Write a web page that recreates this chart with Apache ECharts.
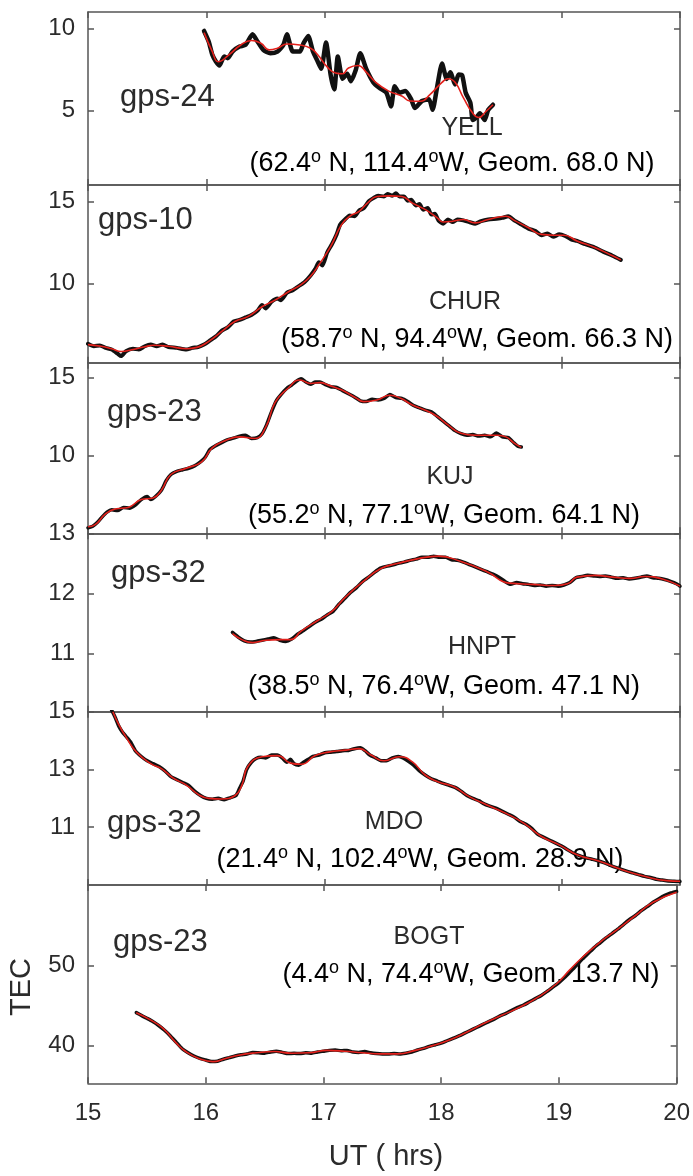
<!DOCTYPE html>
<html>
<head>
<meta charset="utf-8">
<script src="https://cdn.jsdelivr.net/npm/echarts@6/dist/echarts.min.js"></script>
<style>
  html, body { margin: 0; padding: 0; background: #fff; }
  #chart { width: 693px; height: 1176px; }
</style>
</head>
<body>
<div id="chart"></div>
<script>
// TEC (total electron content) along six GPS station links, UT 15-20 h.
// Each station: raw slant TEC (black) and its smoothed trend (red), as [UT hours, TEC].

const stationNames = ['YELL', 'CHUR', 'KUJ', 'HNPT', 'MDO', 'BOGT'];
const satelliteNames = ['gps-24', 'gps-10', 'gps-23', 'gps-32', 'gps-32', 'gps-23'];
const stationCoords = [
  ['62.4', ' N, 114.4', 'W, Geom. 68.0 N)'],
  ['58.7', ' N, 94.4', 'W, Geom. 66.3 N)'],
  ['55.2', ' N, 77.1', 'W, Geom. 64.1 N)'],
  ['38.5', ' N, 76.4', 'W, Geom. 47.1 N)'],
  ['21.4', ' N, 102.4', 'W, Geom. 28.9 N)'],
  ['4.4', ' N, 74.4', 'W, Geom. 13.7 N)']
];

const xTickLabels = [15, 16, 17, 18, 19, 20];
const yRanges = [[0.5, 11], [5.2, 16.0], [5.05, 15.93], [10.03, 13], [9.0, 15], [35.3, 60]];
const yTickValues = [[5, 10], [10, 15], [10, 15], [11, 12, 13], [11, 13, 15], [40, 50]];

const rawYELL = [[15.98,9.85],[16.02,9.2],[16.05,8.4],[16.08,8.0],[16.11,7.75],[16.15,8.3],[16.18,8.2],[16.22,8.6],[16.28,8.9],[16.33,9.0],[16.39,9.65],[16.43,9.23],[16.48,8.7],[16.54,8.5],[16.6,8.6],[16.65,9.0],[16.68,9.65],[16.73,8.6],[16.79,8.6],[16.82,9.1],[16.86,9.55],[16.9,8.6],[16.94,8.0],[16.97,7.55],[17.01,9.15],[17.05,7.15],[17.08,6.3],[17.11,8.3],[17.15,6.95],[17.19,7.25],[17.22,6.8],[17.26,7.45],[17.3,8.5],[17.35,7.55],[17.41,6.73],[17.46,6.4],[17.52,6.1],[17.56,5.27],[17.59,6.5],[17.63,6.1],[17.68,6.2],[17.73,5.7],[17.76,5.17],[17.82,5.6],[17.88,5.7],[17.91,5.06],[17.95,6.5],[17.99,7.87],[18.03,6.94],[18.06,7.35],[18.1,6.6],[18.13,7.2],[18.16,7.15],[18.19,6.1],[18.23,5.48],[18.25,4.44],[18.28,4.6],[18.31,4.85],[18.35,4.44],[18.38,5.06],[18.42,5.37]];
const fitYELL = [[15.98,9.75],[16.05,8.6],[16.1,7.98],[16.19,8.4],[16.29,9.0],[16.38,9.27],[16.46,9.1],[16.53,8.7],[16.6,8.8],[16.68,9.06],[16.79,9.0],[16.88,8.8],[16.94,8.4],[17.02,7.67],[17.09,7.3],[17.15,7.25],[17.2,7.6],[17.28,7.75],[17.35,7.35],[17.43,6.73],[17.54,6.2],[17.65,5.9],[17.72,5.6],[17.81,5.58],[17.89,6.0],[17.99,6.73],[18.04,6.95],[18.1,6.73],[18.17,5.8],[18.25,4.85],[18.3,4.6],[18.36,4.96],[18.42,5.37]];

const rawCHUR = [[15.0,6.35],[15.05,6.2],[15.1,6.25],[15.15,6.1],[15.2,6.0],[15.25,5.75],[15.28,5.6],[15.32,5.9],[15.38,6.05],[15.43,6.0],[15.48,6.2],[15.53,6.3],[15.58,6.2],[15.63,6.3],[15.68,6.15],[15.75,6.1],[15.83,6.0],[15.88,6.1],[15.93,6.15],[15.98,6.3],[16.03,6.55],[16.08,6.8],[16.13,7.15],[16.18,7.35],[16.23,7.7],[16.28,7.8],[16.33,7.95],[16.38,8.1],[16.43,8.35],[16.47,8.7],[16.5,8.5],[16.55,8.9],[16.6,9.1],[16.63,9.0],[16.68,9.45],[16.73,9.6],[16.78,9.85],[16.83,10.1],[16.88,10.5],[16.92,10.9],[16.95,11.3],[16.98,11.1],[17.02,11.9],[17.06,12.4],[17.1,13.0],[17.13,13.6],[17.17,13.9],[17.21,14.15],[17.25,14.1],[17.29,14.45],[17.33,14.6],[17.37,15.0],[17.41,15.2],[17.45,15.35],[17.5,15.3],[17.53,15.45],[17.57,15.35],[17.6,15.5],[17.63,15.3],[17.67,15.3],[17.7,15.05],[17.73,15.1],[17.77,14.75],[17.8,14.85],[17.83,14.5],[17.87,14.6],[17.9,14.2],[17.93,14.25],[17.96,13.85],[18.0,13.65],[18.04,13.9],[18.08,13.75],[18.12,13.9],[18.17,13.85],[18.22,13.75],[18.27,13.65],[18.32,13.8],[18.38,13.9],[18.45,13.95],[18.5,14.0],[18.55,14.1],[18.6,13.85],[18.66,13.6],[18.72,13.35],[18.78,13.2],[18.83,12.95],[18.88,13.05],[18.93,12.85],[18.98,13.0],[19.03,12.9],[19.08,12.7],[19.13,12.6],[19.2,12.4],[19.28,12.2],[19.35,11.95],[19.43,11.7],[19.5,11.45]];
const fitCHUR = [[15.0,6.3],[15.11,6.2],[15.2,6.05],[15.28,5.88],[15.38,6.0],[15.47,6.15],[15.56,6.26],[15.68,6.2],[15.83,6.05],[15.92,6.13],[16.02,6.5],[16.13,7.1],[16.24,7.7],[16.35,8.0],[16.47,8.6],[16.58,9.0],[16.69,9.5],[16.8,9.94],[16.88,10.45],[16.95,11.15],[17.05,12.27],[17.14,13.58],[17.21,14.1],[17.29,14.4],[17.36,14.9],[17.44,15.3],[17.55,15.34],[17.65,15.3],[17.74,14.9],[17.85,14.5],[17.95,14.0],[18.0,13.75],[18.08,13.8],[18.17,13.9],[18.27,13.7],[18.38,13.9],[18.53,14.1],[18.6,13.85],[18.72,13.4],[18.83,13.0],[18.93,12.95],[19.02,12.95],[19.13,12.6],[19.28,12.2],[19.43,11.7],[19.5,11.45]];

const rawKUJ = [[15.0,5.4],[15.04,5.5],[15.08,5.75],[15.12,6.1],[15.16,6.4],[15.2,6.55],[15.25,6.5],[15.3,6.7],[15.35,6.65],[15.4,6.85],[15.45,7.2],[15.5,7.4],[15.53,7.2],[15.57,7.4],[15.62,7.8],[15.66,8.4],[15.7,8.8],[15.75,9.0],[15.8,9.1],[15.85,9.2],[15.9,9.35],[15.95,9.6],[15.99,9.9],[16.03,10.4],[16.07,10.6],[16.12,10.8],[16.17,11.0],[16.22,11.1],[16.28,11.25],[16.33,11.3],[16.38,11.1],[16.43,11.15],[16.47,11.4],[16.51,12.0],[16.55,12.8],[16.59,13.5],[16.63,13.9],[16.68,14.3],[16.72,14.5],[16.76,14.75],[16.8,14.9],[16.84,14.7],[16.88,14.55],[16.92,14.7],[16.96,14.7],[17.0,14.55],[17.05,14.4],[17.1,14.35],[17.15,14.15],[17.2,13.95],[17.25,13.75],[17.3,13.5],[17.35,13.45],[17.4,13.6],[17.45,13.55],[17.5,13.65],[17.55,13.9],[17.6,13.7],[17.65,13.65],[17.7,13.45],[17.75,13.2],[17.8,13.05],[17.85,12.9],[17.9,12.8],[17.95,12.5],[18.0,12.2],[18.05,11.9],[18.1,11.6],[18.15,11.4],[18.2,11.3],[18.25,11.35],[18.3,11.25],[18.35,11.3],[18.4,11.2],[18.45,11.45],[18.5,11.2],[18.55,11.15],[18.6,10.8],[18.63,10.6],[18.66,10.55]];
const fitKUJ = [[15.0,5.47],[15.06,5.6],[15.15,6.3],[15.23,6.6],[15.34,6.7],[15.45,7.2],[15.55,7.3],[15.62,7.8],[15.7,8.8],[15.83,9.2],[15.96,9.6],[16.05,10.5],[16.17,11.0],[16.28,11.2],[16.41,11.1],[16.5,11.8],[16.58,13.4],[16.69,14.3],[16.79,14.83],[16.88,14.6],[16.96,14.66],[17.03,14.5],[17.14,14.2],[17.26,13.7],[17.33,13.45],[17.44,13.55],[17.55,13.85],[17.64,13.66],[17.74,13.23],[17.85,12.9],[17.95,12.5],[18.04,11.96],[18.15,11.43],[18.27,11.3],[18.38,11.3],[18.46,11.3],[18.53,11.2],[18.6,10.8],[18.66,10.53]];

const rawHNPT = [[16.22,11.35],[16.27,11.27],[16.32,11.21],[16.37,11.19],[16.42,11.2],[16.47,11.22],[16.52,11.24],[16.57,11.26],[16.62,11.22],[16.67,11.2],[16.72,11.24],[16.77,11.32],[16.82,11.38],[16.87,11.45],[16.92,11.52],[16.97,11.57],[17.02,11.64],[17.07,11.7],[17.12,11.82],[17.17,11.92],[17.22,12.02],[17.27,12.1],[17.32,12.2],[17.37,12.27],[17.42,12.35],[17.47,12.42],[17.52,12.45],[17.57,12.47],[17.62,12.5],[17.67,12.52],[17.72,12.55],[17.77,12.57],[17.82,12.6],[17.87,12.6],[17.92,12.62],[17.97,12.6],[18.02,12.6],[18.07,12.56],[18.12,12.55],[18.17,12.52],[18.22,12.48],[18.27,12.44],[18.32,12.4],[18.37,12.36],[18.42,12.32],[18.47,12.27],[18.52,12.2],[18.57,12.15],[18.62,12.18],[18.67,12.16],[18.72,12.15],[18.77,12.13],[18.82,12.14],[18.87,12.12],[18.92,12.13],[18.97,12.12],[19.02,12.14],[19.07,12.18],[19.12,12.26],[19.17,12.28],[19.22,12.3],[19.27,12.29],[19.32,12.28],[19.37,12.29],[19.42,12.27],[19.47,12.25],[19.52,12.26],[19.57,12.24],[19.62,12.25],[19.67,12.27],[19.72,12.29],[19.77,12.26],[19.82,12.25],[19.87,12.23],[19.92,12.2],[19.97,12.16],[20.0,12.12]];
const fitHNPT = [[16.22,11.33],[16.3,11.23],[16.39,11.18],[16.5,11.22],[16.62,11.23],[16.71,11.23],[16.8,11.37],[16.95,11.56],[17.06,11.7],[17.17,11.93],[17.32,12.19],[17.47,12.41],[17.62,12.5],[17.77,12.57],[17.96,12.62],[18.15,12.53],[18.37,12.36],[18.56,12.17],[18.75,12.15],[18.94,12.13],[19.05,12.16],[19.13,12.27],[19.28,12.3],[19.43,12.27],[19.58,12.25],[19.7,12.28],[19.85,12.24],[20.0,12.12]];

const rawMDO = [[15.2,15.05],[15.23,14.8],[15.26,14.5],[15.29,14.3],[15.32,14.15],[15.36,13.95],[15.4,13.65],[15.45,13.45],[15.5,13.3],[15.55,13.2],[15.6,13.1],[15.65,12.95],[15.7,12.75],[15.75,12.65],[15.8,12.55],[15.85,12.45],[15.9,12.25],[15.95,12.1],[16.0,12.0],[16.05,11.97],[16.1,12.0],[16.15,11.95],[16.2,12.02],[16.25,12.1],[16.28,12.35],[16.31,12.6],[16.34,13.0],[16.38,13.25],[16.42,13.38],[16.46,13.42],[16.5,13.4],[16.55,13.5],[16.6,13.5],[16.64,13.4],[16.68,13.25],[16.71,13.35],[16.74,13.2],[16.78,13.15],[16.82,13.25],[16.86,13.35],[16.9,13.45],[16.95,13.5],[17.0,13.58],[17.05,13.6],[17.1,13.62],[17.15,13.65],[17.2,13.66],[17.25,13.72],[17.3,13.75],[17.34,13.65],[17.38,13.5],[17.43,13.4],[17.48,13.3],[17.52,13.3],[17.57,13.4],[17.62,13.45],[17.66,13.4],[17.7,13.3],[17.75,13.15],[17.8,12.95],[17.85,12.8],[17.9,12.68],[17.95,12.6],[18.0,12.52],[18.05,12.45],[18.1,12.38],[18.15,12.25],[18.2,12.1],[18.25,12.0],[18.3,11.92],[18.35,11.8],[18.4,11.72],[18.45,11.65],[18.5,11.55],[18.55,11.45],[18.6,11.35],[18.65,11.2],[18.7,11.1],[18.75,10.95],[18.8,10.75],[18.85,10.65],[18.9,10.55],[18.95,10.45],[19.0,10.35],[19.05,10.22],[19.1,10.1],[19.15,10.02],[19.2,9.95],[19.25,9.9],[19.3,9.85],[19.35,9.78],[19.4,9.7],[19.45,9.62],[19.5,9.55],[19.55,9.48],[19.6,9.42],[19.65,9.36],[19.7,9.3],[19.75,9.26],[19.8,9.2],[19.85,9.17],[19.9,9.14],[19.95,9.13],[20.0,9.12]];
const fitMDO = [[15.21,15.0],[15.26,14.55],[15.32,14.13],[15.41,13.6],[15.53,13.2],[15.62,13.03],[15.72,12.7],[15.83,12.46],[15.94,12.11],[16.02,12.0],[16.13,11.98],[16.24,12.09],[16.3,12.46],[16.35,13.1],[16.47,13.44],[16.6,13.48],[16.71,13.22],[16.8,13.18],[16.92,13.48],[17.03,13.6],[17.18,13.67],[17.29,13.72],[17.39,13.5],[17.5,13.3],[17.63,13.44],[17.74,13.26],[17.85,12.8],[17.96,12.57],[18.09,12.4],[18.22,12.06],[18.37,11.77],[18.53,11.48],[18.68,11.14],[18.83,10.68],[18.98,10.39],[19.13,10.05],[19.32,9.82],[19.51,9.53],[19.7,9.3],[19.89,9.15],[20.0,9.13]];

const rawBOGT = [[15.41,44.1],[15.46,43.7],[15.5,43.4],[15.55,43.0],[15.6,42.5],[15.65,41.9],[15.7,41.2],[15.75,40.4],[15.8,39.6],[15.85,39.1],[15.9,38.7],[15.95,38.4],[16.0,38.2],[16.05,38.0],[16.1,38.05],[16.15,38.3],[16.2,38.5],[16.25,38.7],[16.3,38.85],[16.35,38.95],[16.4,39.15],[16.45,39.1],[16.5,39.05],[16.55,39.2],[16.6,39.3],[16.65,39.15],[16.7,39.0],[16.75,39.05],[16.8,39.0],[16.85,39.1],[16.9,39.05],[16.95,39.2],[17.0,39.3],[17.05,39.4],[17.1,39.45],[17.15,39.35],[17.2,39.4],[17.25,39.2],[17.3,39.15],[17.35,39.25],[17.4,39.1],[17.45,39.0],[17.5,38.95],[17.55,38.95],[17.6,39.0],[17.65,38.95],[17.7,39.05],[17.75,39.2],[17.8,39.45],[17.85,39.65],[17.9,39.9],[17.95,40.1],[18.0,40.3],[18.05,40.6],[18.1,40.9],[18.15,41.2],[18.2,41.55],[18.25,41.9],[18.3,42.25],[18.35,42.6],[18.4,42.95],[18.45,43.3],[18.5,43.7],[18.55,44.0],[18.6,44.4],[18.65,44.75],[18.7,45.05],[18.75,45.45],[18.8,45.85],[18.85,46.25],[18.9,46.75],[18.95,47.3],[19.0,47.85],[19.05,48.5],[19.1,49.25],[19.15,50.0],[19.2,50.8],[19.25,51.5],[19.3,52.2],[19.35,52.8],[19.4,53.4],[19.45,53.95],[19.5,54.5],[19.55,55.1],[19.6,55.7],[19.65,56.2],[19.7,56.8],[19.75,57.3],[19.8,57.85],[19.85,58.3],[19.9,58.7],[19.95,59.0],[20.0,59.2]];
const fitBOGT = [[15.41,44.1],[15.53,43.2],[15.64,42.1],[15.75,40.3],[15.83,39.26],[15.94,38.4],[16.06,38.0],[16.17,38.4],[16.28,38.8],[16.43,39.1],[16.58,39.26],[16.73,39.05],[16.88,39.1],[17.03,39.4],[17.18,39.3],[17.33,39.1],[17.48,38.97],[17.63,38.97],[17.78,39.4],[17.92,39.96],[18.07,40.7],[18.22,41.7],[18.37,42.8],[18.52,43.8],[18.67,44.8],[18.83,46.1],[18.98,47.7],[19.09,49.4],[19.2,51.0],[19.35,52.9],[19.5,54.5],[19.65,56.2],[19.8,57.85],[20.0,59.1]];

const rawSeries = [rawYELL, rawCHUR, rawKUJ, rawHNPT, rawMDO, rawBOGT];
const fitSeries = [fitYELL, fitCHUR, fitKUJ, fitHNPT, fitMDO, fitBOGT];

// ---- layout ----
const FONT = '"Liberation Sans", Arial, Helvetica, sans-serif';
const TEXT_COLOR = '#2b2b2b';
const AXIS_COLOR = '#555555';
const PLOT_LEFT = 88, PLOT_RIGHT = 13;
const panelEdges = [12, 185, 362.7, 533.3, 711.7, 885, 1083.3];
const rawWidths = [4.5, 4, 3.5, 3.5, 3.5, 3.5];
const rawSmooth = [0.2, 0.2, 0.2, 0.2, 0.2, 0.2];

// annotation placement per panel: satellite label (left, y), station (cx, y), coords (cx, y)
const satPos = [[120, 97], [98, 220], [107, 412], [111, 573], [107, 823], [113, 942]];
const stationPos = [[472, 128], [465, 302], [450, 477], [482, 647], [394, 822], [429, 937]];
const coordPos = [[452, 164], [477, 340], [444, 516], [444, 687], [420, 860], [471, 975]];

const grid = [], xAxis = [], yAxis = [], series = [], graphic = [];

const lineStyle = { color: AXIS_COLOR, width: 1.5 };

for (let i = 0; i < 6; i++) {
  const top = panelEdges[i];
  const height = panelEdges[i + 1] - panelEdges[i];
  grid.push({ left: PLOT_LEFT, right: PLOT_RIGHT, top: top, height: height, containLabel: false });

  const isLast = i === 5;
  ['bottom', 'top'].forEach(function (pos) {
    xAxis.push({
      type: 'value', gridIndex: i, position: pos,
      min: xTickLabels[0], max: xTickLabels[xTickLabels.length - 1], interval: 1,
      axisLine: { show: true, onZero: false, lineStyle: lineStyle },
      axisTick: { show: true, inside: true, length: 6, lineStyle: lineStyle },
      axisLabel: {
        show: isLast && pos === 'bottom', margin: 18,
        color: TEXT_COLOR, fontFamily: FONT, fontSize: 24
      },
      splitLine: { show: false }
    });
  });
  ['left', 'right'].forEach(function (pos) {
    yAxis.push({
      type: 'value', gridIndex: i, position: pos,
      min: yRanges[i][0], max: yRanges[i][1],
      axisLine: { show: true, onZero: false, lineStyle: lineStyle },
      axisTick: { show: true, inside: true, length: 6, lineStyle: lineStyle, customValues: yTickValues[i] },
      axisLabel: {
        show: pos === 'left', margin: 13, customValues: yTickValues[i],
        color: TEXT_COLOR, fontFamily: FONT, fontSize: 24
      },
      splitLine: { show: false }
    });
  });

  series.push({
    type: 'line', name: stationNames[i] + ' raw',
    xAxisIndex: 2 * i, yAxisIndex: 2 * i,
    data: rawSeries[i], showSymbol: false, symbol: 'none', smooth: rawSmooth[i],
    lineStyle: { color: '#111111', width: rawWidths[i], join: 'round', cap: 'round' },
    z: 3, silent: true
  });
  series.push({
    type: 'line', name: stationNames[i] + ' trend',
    xAxisIndex: 2 * i, yAxisIndex: 2 * i,
    data: fitSeries[i], showSymbol: false, symbol: 'none', smooth: 0.5,
    lineStyle: { color: '#e3211c', width: 1.6 },
    z: 4, silent: true
  });

  graphic.push({
    type: 'text', x: satPos[i][0], y: satPos[i][1], z: 1,
    style: { text: satelliteNames[i], fill: TEXT_COLOR, font: '31px ' + FONT,
      align: 'left', verticalAlign: 'middle', textAlign: 'left', textVerticalAlign: 'middle' }
  });
  graphic.push({
    type: 'text', x: stationPos[i][0], y: stationPos[i][1], z: 1,
    style: { text: stationNames[i], fill: TEXT_COLOR, font: '25px ' + FONT,
      align: 'center', verticalAlign: 'middle', textAlign: 'center', textVerticalAlign: 'middle' }
  });
  const c = stationCoords[i];
  graphic.push({
    type: 'text', x: coordPos[i][0], y: coordPos[i][1], z: 1,
    style: {
      text: '{n|(' + c[0] + '}{s|o}{n|' + c[1] + '}{s|o}{n|' + c[2] + '}',
      align: 'center', verticalAlign: 'middle', textAlign: 'center', textVerticalAlign: 'middle',
      rich: {
        n: { fontSize: 27, fontFamily: FONT, color: TEXT_COLOR, lineHeight: 32 },
        s: { fontSize: 18, fontFamily: FONT, color: TEXT_COLOR, lineHeight: 18, verticalAlign: 'top' }
      }
    }
  });
}

// axis titles
graphic.push({
  type: 'text', x: 386, y: 1157, z: 1,
  style: { text: 'UT ( hrs)', fill: TEXT_COLOR, font: '29px ' + FONT,
    align: 'center', verticalAlign: 'middle', textAlign: 'center', textVerticalAlign: 'middle' }
});
graphic.push({
  type: 'text', x: 22, y: 987, rotation: Math.PI / 2, z: 1,
  style: { text: 'TEC', fill: TEXT_COLOR, font: '29px ' + FONT,
    align: 'center', verticalAlign: 'middle', textAlign: 'center', textVerticalAlign: 'middle' }
});

const chart = echarts.init(document.getElementById('chart'), null, { renderer: 'canvas' });
chart.setOption({
  animation: false,
  backgroundColor: '#ffffff',
  grid: grid,
  xAxis: xAxis,
  yAxis: yAxis,
  series: series,
  graphic: graphic
});
</script>
</body>
</html>
